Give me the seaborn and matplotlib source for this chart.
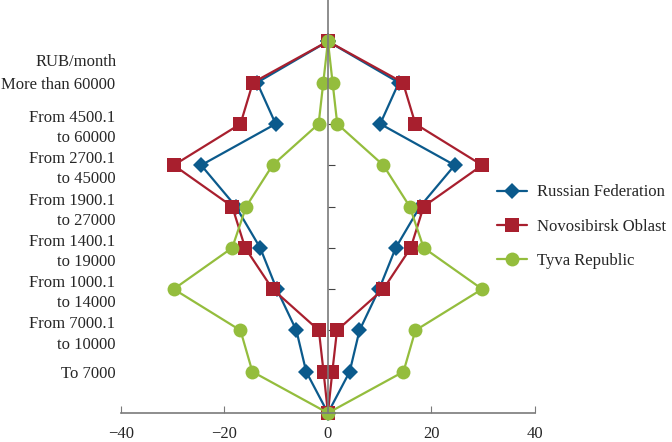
import numpy as np
import pandas as pd
import matplotlib
matplotlib.use("Agg")
import matplotlib.pyplot as plt
import seaborn as sns

# Datos (porcentaje por grupo de ingreso, de abajo hacia arriba)
levels = [1, 2, 3, 4, 5, 6, 7, 8]
tick_labels = ["To 7000",
               "From 7000.1\nto 10000",
               "From 1000.1\nto 14000",
               "From 1400.1\nto 19000",
               "From 1900.1\nto 27000",
               "From 2700.1\nto 45000",
               "From 4500.1\nto 60000",
               "More than 60000"]
unit_label = "RUB/month"

series_names = ["Russian Federation", "Novosibirsk Oblast", "Tyva Republic"]
russia = [4.2, 6.1, 9.9, 13.1, 17.8, 24.5, 10.1, 13.7]
novosibirsk = [0.85, 1.75, 10.7, 16.0, 18.5, 29.8, 16.9, 14.5]
tyva = [14.6, 16.9, 29.8, 18.5, 15.8, 10.7, 1.8, 0.9]

colors = ["#0b5a8c", "#a81f2e", "#94bd3d"]
markers = ["D", "s", "o"]
msizes = [8, 10.5, 10]

sns.set_style("ticks")
plt.rcParams["font.family"] = ["Liberation Serif", "DejaVu Serif"]
plt.rcParams["font.size"] = 12

fig = plt.figure(figsize=(6.72, 4.42), dpi=100)
ax = fig.add_axes([0.18, 0.0656, 0.616, 0.9344])

top = len(levels) + 1
for name, vals, c, m, ms in zip(series_names, [russia, novosibirsk, tyva],
                                colors, markers, msizes):
    # contorno: arriba -> lado izquierdo -> abajo -> lado derecho -> arriba
    v = np.array(vals)
    xs = np.concatenate([[0], -v[::-1], [0], v, [0]])
    ys = np.concatenate([[top], np.array(levels)[::-1], [0], levels, [top]])
    df = pd.DataFrame({"x": xs, "y": ys})
    sns.lineplot(data=df, x="x", y="y", sort=False, estimator=None, ax=ax,
                 color=c, marker=m, markersize=ms, markeredgewidth=0,
                 linewidth=1.6, label=name, clip_on=False)

ax.set_xlim(-40, 40)
ax.set_ylim(0, 10)
ax.set_xlabel("")
ax.set_ylabel("")

spine_c = "#7a7a7a"
for s in ["top", "right"]:
    ax.spines[s].set_visible(False)
ax.spines["left"].set_position(("data", 0))
ax.spines["left"].set_color(spine_c)
ax.spines["bottom"].set_color(spine_c)
ax.spines["left"].set_linewidth(1.2)
ax.spines["bottom"].set_linewidth(1.2)

ax.set_xticks([-40, -20, 0, 20, 40])
ax.set_xticklabels(["\u221240", "\u221220", "0", "20", "40"])
ax.tick_params(axis="x", direction="in", length=5, color=spine_c, labelsize=12, pad=9)
ax.set_yticks(range(0, top + 1))
ax.tick_params(axis="y", direction="in", length=5, color="#444444", labelleft=False)

# etiquetas de categoría en el borde izquierdo
ax2 = ax.twinx()
ax2.set_ylim(0, 10)
ax2.yaxis.set_ticks_position("left")
ax2.set_yticks(levels)
ax2.set_yticklabels(tick_labels, linespacing=1.35, multialignment="right")
ax2.tick_params(axis="y", length=0, pad=4, labelsize=12)
for s in ax2.spines.values():
    s.set_visible(False)
ax2.text(-0.01, 8.5, unit_label, transform=ax2.get_yaxis_transform(),
         ha="right", va="center", fontsize=12)

ax.legend(loc="center left", bbox_to_anchor=(0.73, 0.487),
          bbox_transform=fig.transFigure, frameon=False,
          handlelength=1.8, handletextpad=0.6, labelspacing=1.1,
          fontsize=12, borderaxespad=0)

fig.savefig("out.png", dpi=100)
